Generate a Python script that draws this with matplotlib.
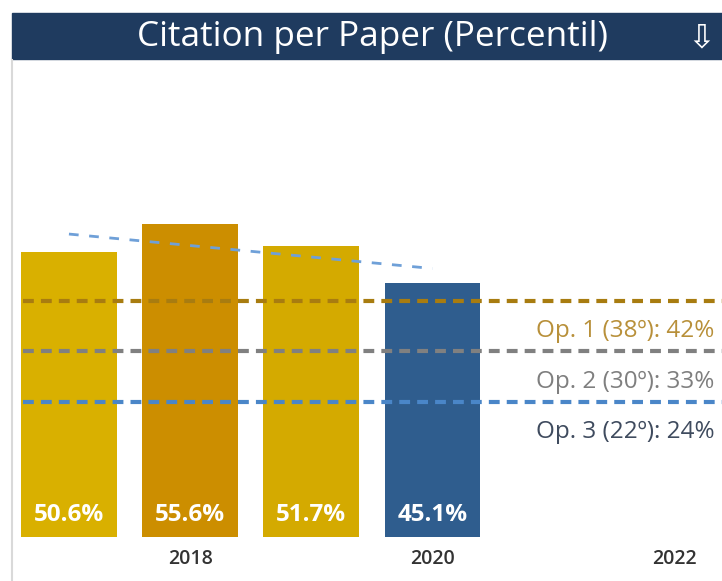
import numpy as np
import matplotlib
matplotlib.use("Agg")
from matplotlib import pyplot as plt
from matplotlib.patches import Rectangle
from matplotlib.lines import Line2D

plt.rcParams['font.family'] = ['Open Sans', 'DejaVu Sans']

# yearly percentile values
years = [2017, 2018, 2019, 2020]
values = [50.6, 55.6, 51.7, 45.1]
bar_colors = ['#D9B000', '#CC8E00', '#D4AA00', '#2F5D8E']
tick_years = [2018, 2020, 2022]

# target options
op_names = ['Op. 1 (38º)', 'Op. 2 (30º)', 'Op. 3 (22º)']
op_values = [42, 33, 24]
op_line_colors = ['#A87C10', '#808080', '#4A86C8']
op_text_colors = ['#B8903A', '#7F7F7F', '#3F4B5E']

W, H = 722, 581
fig = plt.figure(figsize=(W / 100, H / 100), dpi=100)

# title bar
fig.patches.append(Rectangle((12 / W, 1 - 59 / H), 1 - 12 / W, 46 / H,
                             transform=fig.transFigure, color='#1F3B5F', zorder=0))
fig.text(373 / W, 1 - 37 / H, 'Citation per Paper (Percentil)', color='white',
         fontsize=25.3, ha='center', va='center')
fig.text(701 / W, 1 - 38 / H, '⇩', color='white', fontsize=24,
         ha='center', va='center', family=['DejaVu Sans'])

# left border
fig.lines.append(Line2D([11.5 / W, 11.5 / W], [0, 1 - 60 / H], transform=fig.transFigure,
                        color='#D9D9D9', lw=1.5))

ax = fig.add_axes([12 / W, 1 - 537 / H, 1 - 12 / W, (537 - 60) / H])
ax.set_xlim(2016.53, 2022.39)
ax.set_ylim(0, (537 - 60) / 5.63)

ax.bar(years, values, width=0.79, color=bar_colors, zorder=2)
for x, v in zip(years, values):
    ax.text(x, 3.9, f'{v}%', color='white', fontsize=17.5, fontweight='bold',
            ha='center', va='center', zorder=3)

# trend line
coef = np.polyfit(years, values, 1)
tx = np.array([years[0], years[-1]])
ax.plot(tx, np.polyval(coef, tx), color='#6FA0D8', lw=2, ls=(0, (3.5, 3.8)), zorder=3)

for name, v, lc, tc in zip(op_names, op_values, op_line_colors, op_text_colors):
    ax.plot([2016.62, 2022.39], [v, v], color=lc, lw=3, ls=(0, (2.6, 1.7)), zorder=3,
            clip_on=False)
    ax.text(2022.33, v - 5.4, f'{name}: {v}%', color=tc, fontsize=17.5,
            ha='right', va='center')

ax.set_xticks(tick_years)
ax.set_xticklabels([str(t) for t in tick_years], fontsize=14, fontweight='semibold',
                   color='#333333')
ax.tick_params(axis='x', length=0, pad=9)
ax.set_yticks([])
for s in ax.spines.values():
    s.set_visible(False)

fig.savefig('out.png', dpi=100)
